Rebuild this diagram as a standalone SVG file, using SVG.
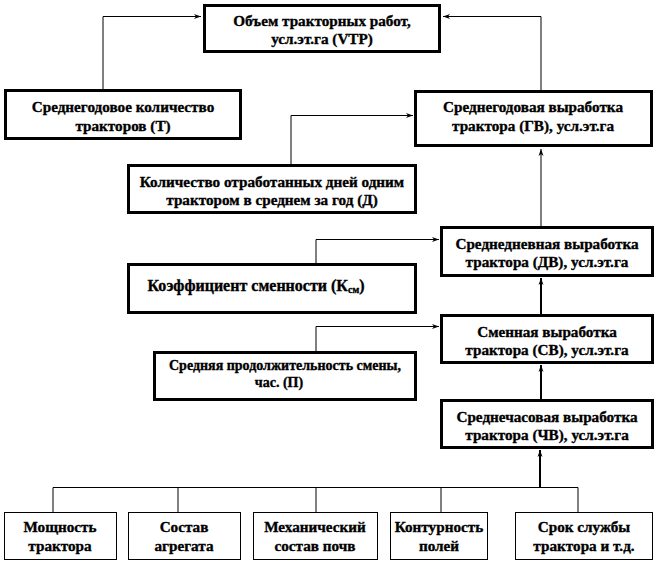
<svg xmlns="http://www.w3.org/2000/svg" width="656" height="563" viewBox="0 0 656 563">
<defs>
<marker id="arr" markerUnits="userSpaceOnUse" markerWidth="7" markerHeight="6" refX="7" refY="3" orient="auto">
<path d="M0,0.5 L7,3 L0,5.5 L2,3 z" fill="#000"/>
</marker>
</defs>
<style>
.bx{fill:#fff;stroke:#000;stroke-width:3}
.bt{fill:#fff;stroke:#000;stroke-width:1}
.t{font-family:'Liberation Serif','DejaVu Serif',serif;font-weight:bold;font-size:15.2px;text-anchor:middle;fill:#000;stroke:#000;stroke-width:0.35}
.c{fill:none;stroke:#000;stroke-width:1}
.ck{fill:none;stroke:#000;stroke-width:2}
</style>
<rect width="656" height="563" fill="#fff"/>
<g id="connectors">
<path class="c" d="M103,89 V16.5 H201" marker-end="url(#arr)"/>
<path class="c" d="M541,90 V16.5 H443" marker-end="url(#arr)"/>
<path class="c" d="M291,164 V115.5 H413" marker-end="url(#arr)"/>
<path class="c" d="M541,226 V149" marker-end="url(#arr)"/>
<path class="c" d="M316,263 V239.5 H439" marker-end="url(#arr)"/>
<path class="ck" d="M541,314 V278" marker-end="url(#arr)"/>
<path class="c" d="M316,351 V326.5 H439" marker-end="url(#arr)"/>
<path class="ck" d="M541,399 V365" marker-end="url(#arr)"/>
<path class="ck" d="M540,487 V450" marker-end="url(#arr)"/>
<path class="c" d="M53,487.5 H578 M53,487.5 V512 M178,487.5 V512 M316,487.5 V512 M441,487.5 V512 M578,487.5 V512"/>
</g>
<g id="vtp">
<rect class="bx" x="204.5" y="5.5" width="235" height="46"/>
<text class="t" x="322" y="26">Объем тракторных работ,</text>
<text class="t" x="322" y="44">усл.эт.га (VTP)</text>
</g>
<g id="t">
<rect class="bx" x="5.5" y="90.5" width="235" height="48"/>
<text class="t" x="123" y="112">Среднегодовое количество</text>
<text class="t" x="123" y="131">тракторов (Т)</text>
</g>
<g id="gv">
<rect class="bx" x="415.5" y="91.5" width="236" height="54"/>
<text class="t" x="533" y="112">Среднегодовая выработка</text>
<text class="t" x="533" y="131">трактора (ГВ), усл.эт.га</text>
</g>
<g id="d">
<rect class="bx" x="128.5" y="165.5" width="287" height="47"/>
<text class="t" x="272" y="187">Количество отработанных дней одним</text>
<text class="t" x="272" y="205">трактором в среднем за год (Д)</text>
</g>
<g id="ksm">
<rect class="bx" x="128.5" y="264.5" width="287" height="48"/>
<text class="t" x="256" y="291" style="font-size:16px">Коэффициент сменности (К<tspan style="font-size:10px" dy="2">см</tspan><tspan dy="-2">)</tspan></text>
</g>
<g id="dv">
<rect class="bx" x="441.5" y="227.5" width="211" height="48"/>
<text class="t" x="547" y="249">Среднедневная выработка</text>
<text class="t" x="547" y="267">трактора (ДВ), усл.эт.га</text>
</g>
<g id="sv">
<rect class="bx" x="441.5" y="315.5" width="211" height="47"/>
<text class="t" x="547" y="337">Сменная выработка</text>
<text class="t" x="547" y="355">трактора (СВ), усл.эт.га</text>
</g>
<g id="p">
<rect class="bx" x="154.5" y="352.5" width="261" height="47"/>
<text class="t" x="285" y="370" style="font-size:14px">Средняя продолжительность смены,</text>
<text class="t" x="279" y="387" style="font-size:14px">час. (П)</text>
</g>
<g id="chv">
<rect class="bx" x="441.5" y="400.5" width="211" height="47"/>
<text class="t" x="547" y="422">Среднечасовая выработка</text>
<text class="t" x="547" y="440">трактора (ЧВ), усл.эт.га</text>
</g>
<g id="b1">
<rect class="bt" x="4.5" y="512.5" width="112" height="47"/>
<text class="t" x="60" y="532">Мощность</text>
<text class="t" x="60" y="551">трактора</text>
</g>
<g id="b2">
<rect class="bt" x="128.5" y="512.5" width="112" height="47"/>
<text class="t" x="184" y="532">Состав</text>
<text class="t" x="184" y="551">агрегата</text>
</g>
<g id="b3">
<rect class="bt" x="253.5" y="512.5" width="124" height="47"/>
<text class="t" x="315" y="532">Механический</text>
<text class="t" x="315" y="551">состав почв</text>
</g>
<g id="b4">
<rect class="bt" x="390.5" y="512.5" width="97" height="47"/>
<text class="t" x="439" y="532">Контурность</text>
<text class="t" x="439" y="551">полей</text>
</g>
<g id="b5">
<rect class="bt" x="515.5" y="512.5" width="137" height="47"/>
<text class="t" x="584" y="532">Срок службы</text>
<text class="t" x="584" y="551">трактора и т.д.</text>
</g>
</svg>
